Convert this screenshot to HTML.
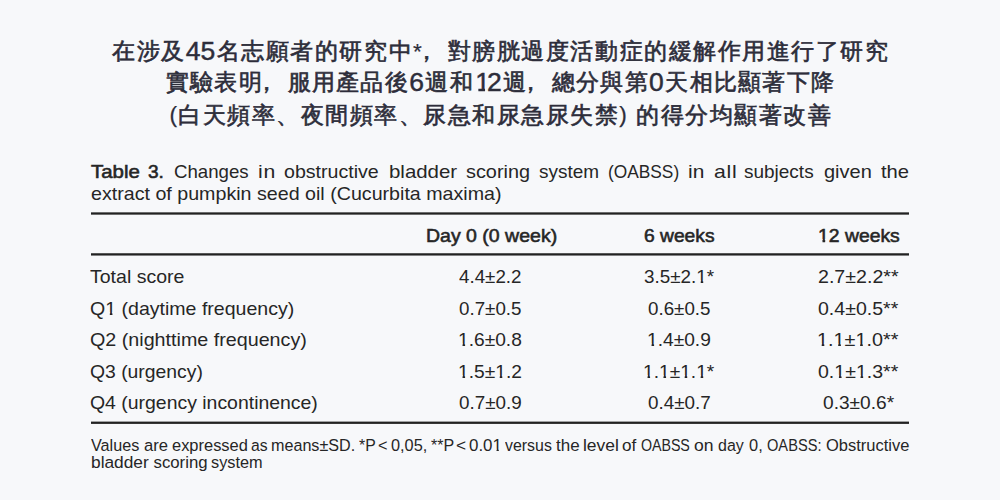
<!DOCTYPE html>
<html lang="zh-Hant"><head><meta charset="utf-8">
<style>
html,body{margin:0;padding:0;}
body{width:1000px;height:500px;background:#f7f8fa;font-family:"Liberation Sans",sans-serif;color:#262626;position:relative;overflow:hidden;}
.h{position:absolute;left:0;width:1000px;text-align:center;font-size:22.6px;font-weight:400;color:#2d2d3a;white-space:nowrap;line-height:32px;-webkit-text-stroke:0.62px #2d2d3a;}
.e{position:absolute;white-space:nowrap;line-height:20px;transform-origin:0 0;}
.j{position:absolute;white-space:nowrap;line-height:20px;transform-origin:0 0;text-align:justify;text-align-last:justify;}
.one{display:inline-block;line-height:1em;clip-path:polygon(-1em -1em,2em -1em,2em 0.64em,0.37em 0.64em,0.37em 2em,0.235em 2em,0.235em 0.64em,-1em 0.64em);}
.h .one{margin-right:-3px;clip-path:polygon(-1em -1em,2em -1em,2em 0.64em,0.42em 0.64em,0.42em 2em,0.17em 2em,0.17em 0.64em,-1em 0.64em);}
.dg{line-height:0;font-size:26.5px;position:relative;top:1.4px;-webkit-text-stroke:0.45px #2d2d3a;}
.pr{position:relative;top:-1.5px;-webkit-text-stroke:0.25px #2d2d3a;}
.st{-webkit-text-stroke:0.2px #2d2d3a;}
</style></head><body>
<div class="h" style="top:36px;letter-spacing:1.519px;text-indent:1.519px">在涉及<span class="dg"><span style="letter-spacing:0">4</span>5</span>名志願者的研究中<span class="st">*</span><span style="position:relative;left:-8px">，</span>對膀胱過度活動症的緩解作用進行了研究</div>
<div class="h" style="top:67px;letter-spacing:1.332px;text-indent:1.332px">實驗表明<span style="position:relative;left:-8px">，</span>服用產品後<span class="dg">6</span>週和<span class="dg"><span style="letter-spacing:0"><span class="one">1</span></span>2</span>週<span style="position:relative;left:-8px">，</span>總分與第<span class="dg">0</span>天相比顯著下降</div>
<div class="h" style="top:100px;letter-spacing:1.493px;text-indent:1.493px"><span class="pr">(</span>白天頻率、夜間頻率、尿急和尿急尿失禁<span class="pr">)</span> 的得分均顯著改善</div>
<svg width="1000" height="500" style="position:absolute;left:0;top:0"><rect x="91" y="212.35" width="818" height="2.3" fill="#222"/><rect x="91" y="253.25" width="818" height="2.3" fill="#222"/><rect x="91" y="421.6" width="818" height="2.3" fill="#222"/></svg>
<div class="e" id="cw0" style="left:90.71px;top:161.70px;font-size:17.7px;font-weight:400;transform:scaleX(1.1566);-webkit-text-stroke:0.55px currentColor;">Table</div>
<div class="e" id="cw1" style="left:148.46px;top:161.70px;font-size:17.7px;font-weight:400;transform:scaleX(1.0769);-webkit-text-stroke:0.55px currentColor;">3.</div>
<div class="e" id="cw2" style="left:173.95px;top:161.70px;font-size:17.7px;font-weight:400;transform:scaleX(1.0542);">Changes</div>
<div class="e" id="cw3" style="left:257.50px;top:161.70px;font-size:17.7px;font-weight:400;transform:scaleX(1.2000);letter-spacing:0.667px;">in</div>
<div class="e" id="cw4" style="left:284.17px;top:161.70px;font-size:17.7px;font-weight:400;transform:scaleX(1.1071);">obstructive</div>
<div class="e" id="cw5" style="left:388.56px;top:161.70px;font-size:17.7px;font-weight:400;transform:scaleX(1.1548);">bladder</div>
<div class="e" id="cw6" style="left:466.44px;top:161.70px;font-size:17.7px;font-weight:400;transform:scaleX(1.1222);">scoring</div>
<div class="e" id="cw7" style="left:539.06px;top:161.70px;font-size:17.7px;font-weight:400;transform:scaleX(1.0716);">system</div>
<div class="e" id="cw8" style="left:608.42px;top:161.70px;font-size:17.7px;font-weight:400;transform:scaleX(0.9787);">(OABSS)</div>
<div class="e" id="cw9" style="left:688.12px;top:161.70px;font-size:17.7px;font-weight:400;transform:scaleX(1.1826);">in</div>
<div class="e" id="cw10" style="left:713.50px;top:161.70px;font-size:17.7px;font-weight:400;transform:scaleX(1.2000);letter-spacing:0.625px;">all</div>
<div class="e" id="cw11" style="left:744.26px;top:161.70px;font-size:17.7px;font-weight:400;transform:scaleX(1.0729);">subjects</div>
<div class="e" id="cw12" style="left:823.75px;top:161.70px;font-size:17.7px;font-weight:400;transform:scaleX(1.1309);">given</div>
<div class="e" id="cw13" style="left:880.71px;top:161.70px;font-size:17.7px;font-weight:400;transform:scaleX(1.1404);">the</div>
<div class="e" id="cap2" style="left:90.67px;top:184.00px;font-size:17.7px;font-weight:400;transform:scaleX(1.1108);">extract of pumpkin seed oil (Cucurbita maxima)</div>
<div class="e" id="hd1" style="left:426.12px;top:225.75px;font-size:17.7px;font-weight:400;transform:scaleX(1.1026);-webkit-text-stroke:0.55px currentColor;">Day 0 (0 week)</div>
<div class="e" id="hd2" style="left:643.88px;top:225.75px;font-size:17.7px;font-weight:400;transform:scaleX(1.0871);-webkit-text-stroke:0.55px currentColor;">6 weeks</div>
<div class="e" id="hd3" style="left:817.76px;top:225.75px;font-size:17.7px;font-weight:400;transform:scaleX(1.0942);-webkit-text-stroke:0.55px currentColor;"><span class="one">1</span>2 weeks</div>
<div class="e" id="r0c1" style="left:90.45px;top:266.80px;font-size:17.7px;font-weight:400;transform:scaleX(1.1039);">Total score</div>
<div class="e" id="r0c2" style="left:458.97px;top:266.80px;font-size:17.7px;font-weight:400;transform:scaleX(1.0609);">4.4±2.2</div>
<div class="e" id="r0c3" style="left:644.20px;top:266.80px;font-size:17.7px;font-weight:400;transform:scaleX(1.0656);">3.5±2.<span class="one">1</span>*</div>
<div class="e" id="r0c4" style="left:817.89px;top:266.80px;font-size:17.7px;font-weight:400;transform:scaleX(1.1088);">2.7±2.2**</div>
<div class="e" id="r1c1" style="left:90.17px;top:298.60px;font-size:17.7px;font-weight:400;transform:scaleX(1.1049);">Q<span class="one">1</span> (daytime frequency)</div>
<div class="e" id="r1c2" style="left:458.70px;top:298.60px;font-size:17.7px;font-weight:400;transform:scaleX(1.0609);">0.7±0.5</div>
<div class="e" id="r1c3" style="left:648.20px;top:298.60px;font-size:17.7px;font-weight:400;transform:scaleX(1.0609);">0.6±0.5</div>
<div class="e" id="r1c4" style="left:818.17px;top:298.60px;font-size:17.7px;font-weight:400;transform:scaleX(1.1049);">0.4±0.5**</div>
<div class="e" id="r2c1" style="left:90.16px;top:330.20px;font-size:17.7px;font-weight:400;transform:scaleX(1.1139);">Q2 (nighttime frequency)</div>
<div class="e" id="r2c2" style="left:457.60px;top:330.20px;font-size:17.7px;font-weight:400;transform:scaleX(1.0844);"><span class="one">1</span>.6±0.8</div>
<div class="e" id="r2c3" style="left:647.10px;top:330.20px;font-size:17.7px;font-weight:400;transform:scaleX(1.0844);"><span class="one">1</span>.4±0.9</div>
<div class="e" id="r2c4" style="left:817.04px;top:330.20px;font-size:17.7px;font-weight:400;transform:scaleX(1.1206);"><span class="one">1</span>.<span class="one">1</span>±<span class="one">1</span>.0**</div>
<div class="e" id="r3c1" style="left:90.18px;top:361.80px;font-size:17.7px;font-weight:400;transform:scaleX(1.0933);">Q3 (urgency)</div>
<div class="e" id="r3c2" style="left:457.60px;top:361.80px;font-size:17.7px;font-weight:400;transform:scaleX(1.0844);"><span class="one">1</span>.5±<span class="one">1</span>.2</div>
<div class="e" id="r3c3" style="left:643.11px;top:361.80px;font-size:17.7px;font-weight:400;transform:scaleX(1.0824);"><span class="one">1</span>.<span class="one">1</span>±<span class="one">1</span>.<span class="one">1</span>*</div>
<div class="e" id="r3c4" style="left:818.17px;top:361.80px;font-size:17.7px;font-weight:400;transform:scaleX(1.1049);">0.<span class="one">1</span>±<span class="one">1</span>.3**</div>
<div class="e" id="r4c1" style="left:90.18px;top:393.40px;font-size:17.7px;font-weight:400;transform:scaleX(1.0983);">Q4 (urgency incontinence)</div>
<div class="e" id="r4c2" style="left:458.70px;top:393.40px;font-size:17.7px;font-weight:400;transform:scaleX(1.0655);">0.7±0.9</div>
<div class="e" id="r4c3" style="left:648.20px;top:393.40px;font-size:17.7px;font-weight:400;transform:scaleX(1.0655);">0.4±0.7</div>
<div class="e" id="r4c4" style="left:823.19px;top:393.40px;font-size:17.7px;font-weight:400;transform:scaleX(1.0811);">0.3±0.6*</div>
<div class="e" id="fa0" style="left:90.76px;top:436.00px;font-size:16.8px;font-weight:400;transform:scaleX(0.9645);">Values</div>
<div class="e" id="fa1" style="left:143.76px;top:436.00px;font-size:16.8px;font-weight:400;transform:scaleX(0.9890);">are</div>
<div class="e" id="fa2" style="left:171.76px;top:436.00px;font-size:16.8px;font-weight:400;transform:scaleX(0.9801);">expressed</div>
<div class="e" id="fa3" style="left:251.30px;top:436.00px;font-size:16.8px;font-weight:400;transform:scaleX(0.9354);">as</div>
<div class="e" id="fa4" style="left:271.30px;top:436.00px;font-size:16.8px;font-weight:400;transform:scaleX(0.9617);">means±SD.</div>
<div class="e" id="fa5" style="left:359.27px;top:436.00px;font-size:16.8px;font-weight:400;transform:scaleX(0.9394);">*P</div>
<div class="e" id="fa6" style="left:378.27px;top:436.00px;font-size:16.8px;font-weight:400;transform:scaleX(0.9697);">&lt;</div>
<div class="e" id="fa7" style="left:391.27px;top:436.00px;font-size:16.8px;font-weight:400;transform:scaleX(0.9714);">0,05,</div>
<div class="e" id="fa8" style="left:431.26px;top:436.00px;font-size:16.8px;font-weight:400;transform:scaleX(0.9565);">**P</div>
<div class="e" id="fa9" style="left:456.23px;top:436.00px;font-size:16.8px;font-weight:400;transform:scaleX(1.0303);">&lt;</div>
<div class="e" id="fa10" style="left:469.24px;top:436.00px;font-size:16.8px;font-weight:400;transform:scaleX(1.0087);">0.0<span class="one">1</span></div>
<div class="e" id="fa11" style="left:504.76px;top:436.00px;font-size:16.8px;font-weight:400;transform:scaleX(0.9485);">versus</div>
<div class="e" id="fa12" style="left:555.75px;top:436.00px;font-size:16.8px;font-weight:400;transform:scaleX(1.0112);">the</div>
<div class="e" id="fa13" style="left:583.20px;top:436.00px;font-size:16.8px;font-weight:400;transform:scaleX(1.0388);">level</div>
<div class="e" id="fa14" style="left:621.74px;top:436.00px;font-size:16.8px;font-weight:400;transform:scaleX(1.0189);">of</div>
<div class="e" id="fa15" style="left:641.36px;top:436.00px;font-size:16.8px;font-weight:400;transform:scaleX(0.8500);letter-spacing:-0.092px;">OABSS</div>
<div class="e" id="fa16" style="left:694.22px;top:436.00px;font-size:16.8px;font-weight:400;transform:scaleX(1.0448);">on</div>
<div class="e" id="fa17" style="left:718.29px;top:436.00px;font-size:16.8px;font-weight:400;transform:scaleX(0.9524);">day</div>
<div class="e" id="fa18" style="left:749.27px;top:436.00px;font-size:16.8px;font-weight:400;transform:scaleX(0.9787);">0,</div>
<div class="e" id="fa19" style="left:766.85px;top:436.00px;font-size:16.8px;font-weight:400;transform:scaleX(0.8714);">OABSS:</div>
<div class="e" id="fa20" style="left:826.26px;top:436.00px;font-size:16.8px;font-weight:400;transform:scaleX(0.9820);">Obstructive</div>
<div class="e" id="fb0" style="left:90.97px;top:453.40px;font-size:16.8px;font-weight:400;transform:scaleX(1.0320);">bladder</div>
<div class="e" id="fb1" style="left:153.50px;top:453.40px;font-size:16.8px;font-weight:400;transform:scaleX(1.0000);">scoring</div>
<div class="e" id="fb2" style="left:211.01px;top:453.40px;font-size:16.8px;font-weight:400;transform:scaleX(0.9709);">system</div>
</body></html>
